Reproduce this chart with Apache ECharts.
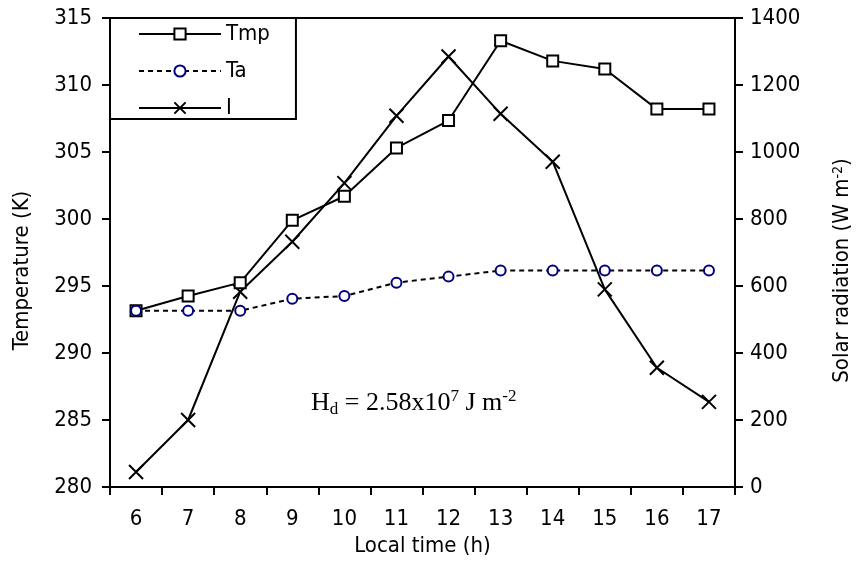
<!DOCTYPE html>
<html>
<head>
<meta charset="utf-8">
<script src="https://cdn.jsdelivr.net/npm/echarts@6/dist/echarts.min.js"></script>
<style>
  html, body { margin: 0; padding: 0; background: #fff; }
  #chart { width: 861px; height: 576px; }
</style>
</head>
<body>
<div id="chart"></div>
<script>
// ---- data ----
const hours = ['6', '7', '8', '9', '10', '11', '12', '13', '14', '15', '16', '17'];
const tmpValues = [293.15, 294.25, 295.25, 299.9, 301.7, 305.3, 307.35, 313.3, 311.8, 311.2, 308.2, 308.2];
const taValues = [293.15, 293.15, 293.15, 294.05, 294.25, 295.25, 295.7, 296.15, 296.15, 296.15, 296.15, 296.15];
const radiationValues = [45, 200, 583, 732, 907, 1108, 1285, 1114, 971, 590, 356, 254];
const seriesNames = ['Tmp', 'Ta', 'I'];

const FONT = "'DejaVu Sans Condensed', 'DejaVu Sans', sans-serif";
const SERIF = "'Liberation Serif', 'Times New Roman', serif";
const FS = 22;
const chart = echarts.init(document.getElementById('chart'), null, { renderer: 'canvas' });

const crossPath = 'path://M0,0L10,10M10,0L0,10';

const option = {
  animation: false,
  backgroundColor: '#ffffff',
  grid: {
    left: 110, right: 126, top: 18, bottom: 89,
    show: true, borderColor: '#000', borderWidth: 2, backgroundColor: 'transparent'
  },
  legend: {
    orient: 'vertical',
    left: 110, top: 18,
    padding: [5, 26, 0, 28],
    itemGap: 15,
    itemWidth: 82, itemHeight: 14,
    borderColor: '#000', borderWidth: 2,
    backgroundColor: '#fff',
    textStyle: { fontFamily: FONT, fontSize: FS, color: '#000' },
    data: seriesNames
  },
  xAxis: {
    type: 'category',
    data: hours,
    boundaryGap: true,
    name: 'Local time (h)',
    nameLocation: 'middle',
    nameGap: 48,
    nameTextStyle: { fontFamily: FONT, fontSize: FS, color: '#000' },
    axisLine: { lineStyle: { color: '#000', width: 2 } },
    axisTick: { show: true, alignWithLabel: false, length: 8, lineStyle: { color: '#000', width: 2 } },
    axisLabel: { fontFamily: FONT, fontSize: FS, color: '#000', margin: 21 },
    splitLine: { show: false }
  },
  yAxis: [
    {
      type: 'value', min: 280, max: 315, interval: 5,
      position: 'left',
      name: 'Temperature (K)',
      nameLocation: 'middle',
      nameGap: 77,
      nameTextStyle: { fontFamily: FONT, fontSize: FS, color: '#000', padding: [0, 36, 0, 0] },
      axisLine: { show: true, lineStyle: { color: '#000', width: 2 } },
      axisTick: { show: true, length: 8, lineStyle: { color: '#000', width: 2 } },
      axisLabel: { fontFamily: FONT, fontSize: FS, color: '#000', margin: 18 },
      splitLine: { show: false }
    },
    {
      type: 'value', min: 0, max: 1400, interval: 200,
      position: 'right',
      name: 'Solar radiation (W m{sup|-2})',
      nameLocation: 'middle',
      nameGap: 96,
      nameRotate: 90,
      nameTextStyle: {
        fontFamily: FONT, fontSize: FS, color: '#000', padding: [0, 36, 0, 0],
        rich: { sup: { fontFamily: FONT, fontSize: 14, color: '#000', verticalAlign: 'top', padding: [0, 0, 8, 0] } }
      },
      axisLine: { show: true, lineStyle: { color: '#000', width: 2 } },
      axisTick: { show: true, length: 8, lineStyle: { color: '#000', width: 2 } },
      axisLabel: { fontFamily: FONT, fontSize: FS, color: '#000', margin: 15, formatter: function (v) { return String(v); } },
      splitLine: { show: false }
    }
  ],
  series: [
    {
      name: 'Tmp', type: 'line', yAxisIndex: 0, data: tmpValues,
      symbol: 'rect', symbolSize: 11,
      itemStyle: { color: '#fff', borderColor: '#000', borderWidth: 2 },
      lineStyle: { color: '#000', width: 2 },
      z: 3
    },
    {
      name: 'Ta', type: 'line', yAxisIndex: 0, data: taValues,
      symbol: 'circle', symbolSize: 10,
      itemStyle: { color: '#fff', borderColor: '#000080', borderWidth: 2 },
      lineStyle: { color: '#000', width: 2, type: [5, 4] },
      z: 4
    },
    {
      name: 'I', type: 'line', yAxisIndex: 1, data: radiationValues,
      symbol: crossPath, symbolSize: 14,
      itemStyle: { color: 'none', borderColor: '#000', borderWidth: 2 },
      lineStyle: { color: '#000', width: 2 },
      z: 2
    }
  ],
  graphic: [
    {
      type: 'text',
      left: 311, top: 388,
      z: 10,
      style: {
        text: '{a|H}{s|d}{a| = 2.58x10}{p|7}{a| J m}{p|-2}',
        fill: '#000',
        rich: {
          a: { fontFamily: SERIF, fontSize: 26, fill: '#000', lineHeight: 30, verticalAlign: 'middle' },
          s: { fontFamily: SERIF, fontSize: 17, fill: '#000', lineHeight: 30, verticalAlign: 'bottom' },
          p: { fontFamily: SERIF, fontSize: 17, fill: '#000', lineHeight: 30, verticalAlign: 'top' }
        }
      }
    }
  ]
};
chart.setOption(option);
</script>
</body>
</html>
